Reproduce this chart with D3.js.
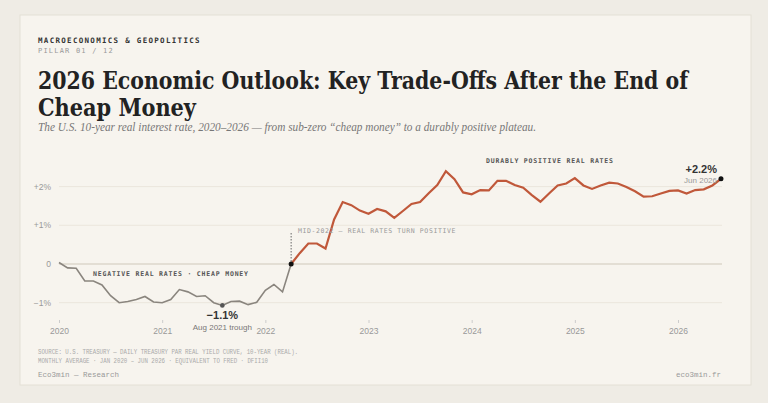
<!DOCTYPE html>
<html><head><meta charset="utf-8">
<script src="https://cdn.jsdelivr.net/npm/d3@7"></script>
<style>body{margin:0;background:#efece5}svg{display:block}</style>
</head><body><svg id="c" width="768" height="403"></svg>
<script>
const startYear = 2020;
const greyValues = [0.04,-0.1,-0.11,-0.44,-0.44,-0.54,-0.82,-1.0,-0.97,-0.92,-0.84,-0.98,
 -1.0,-0.92,-0.66,-0.72,-0.84,-0.82,-1.0,-1.07,-0.97,-0.96,-1.05,-0.99,-0.68,-0.53,-0.72,0];
const orangeValues = [0,0.28,0.53,0.53,0.4,1.15,1.6,1.52,1.38,1.3,1.42,1.36,1.19,
 1.37,1.55,1.6,1.83,2.04,2.4,2.19,1.85,1.8,1.91,1.9,2.15,2.15,2.04,1.97,1.78,1.61,1.82,2.03,2.08,2.22,
 2.03,1.94,2.03,2.1,2.08,1.99,1.88,1.74,1.75,1.82,1.89,1.9,1.82,1.91,1.93,2.03,2.2];
const orangeStart = 27;
const yTicks = [-1,0,1,2];
const yTickLabels = ["−1%","0","+1%","+2%"];
const xTicks = [2020,2021,2022,2023,2024,2025,2026];

const svg = d3.select("#c");
svg.append("rect").attr("width",768).attr("height",403).attr("fill","#efece5");
svg.append("rect").attr("x",20).attr("y",15).attr("width",731).attr("height",370).attr("fill","#f7f4ee").attr("stroke","#e4e0d6");

const mono = "'DejaVu Sans Mono', monospace";
const t = (x,y,s,o)=>{const e=svg.append("text").attr("x",x).attr("y",y).text(s);for(const k in o)e.attr(k,o[k]);return e;};
t(38,43,"MACROECONOMICS & GEOPOLITICS",{"font-family":mono,"font-size":7.5,"font-weight":"bold","letter-spacing":1.3,fill:"#333"});
t(38,53,"PILLAR 01 / 12",{"font-family":mono,"font-size":7,"letter-spacing":1.2,fill:"#999"});
t(38,89,"2026 Economic Outlook: Key Trade-Offs After the End of",{"font-family":"'DejaVu Serif', serif","font-size":24,"font-weight":"bold",fill:"#222",textLength:650,lengthAdjust:"spacingAndGlyphs"});
t(38,116,"Cheap Money",{"font-family":"'DejaVu Serif', serif","font-size":24,"font-weight":"bold",fill:"#222",textLength:158,lengthAdjust:"spacingAndGlyphs"});
t(38,131,"The U.S. 10-year real interest rate, 2020–2026 — from sub-zero “cheap money” to a durably positive plateau.",{"font-family":"'Liberation Serif', serif","font-size":12,"font-style":"italic",fill:"#777",textLength:498,lengthAdjust:"spacingAndGlyphs"});

const x = d3.scaleLinear().domain([2020,2026]).range([59,678]);
const y = d3.scaleLinear().domain([0,1]).range([264,225.3]);
const mx = i => x(startYear + i/12);

const g = svg.append("g");
yTicks.forEach((v,i)=>{
  g.append("line").attr("x1",59).attr("x2",722).attr("y1",y(v)).attr("y2",y(v))
   .attr("stroke", v===0?"#cfc8ba":"#ebe6dc").attr("stroke-width",v===0?1.2:1);
  t(51,y(v)+3,yTickLabels[i],{"font-family":"'Liberation Sans',sans-serif","font-size":8.5,fill:"#999","text-anchor":"end"});
});
const xa = svg.append("g").attr("transform","translate(0,320)").call(d3.axisBottom(x).tickValues(xTicks).tickFormat(d3.format("d")).tickSize(3));
xa.select(".domain").remove();
xa.selectAll("line").attr("stroke","#ccc");
xa.selectAll("text").attr("font-family","'Liberation Sans',sans-serif").attr("font-size",8.5).attr("fill","#999").attr("dy","0.9em");

const line = d3.line().x(d=>mx(d[0])).y(d=>y(d[1]));
svg.append("path").datum(greyValues.map((v,i)=>[i,v])).attr("d",line).attr("fill","none").attr("stroke","#8a857e").attr("stroke-width",1.6);
svg.append("path").datum(orangeValues.map((v,i)=>[i+orangeStart,v])).attr("d",line).attr("fill","none").attr("stroke","#c0583a").attr("stroke-width",2.2);

svg.append("line").attr("x1",mx(orangeStart)).attr("x2",mx(orangeStart)).attr("y1",233).attr("y2",264).attr("stroke","#666").attr("stroke-dasharray","1.5,1.5");
svg.append("circle").attr("cx",mx(orangeStart)).attr("cy",y(0)).attr("r",2.5).attr("fill","#111");
t(298,233,"MID-2022 — REAL RATES TURN POSITIVE",{"font-family":mono,"font-size":6.5,"letter-spacing":0.6,fill:"#999"});
t(93,276,"NEGATIVE REAL RATES · CHEAP MONEY",{"font-family":mono,"font-size":6.5,"font-weight":"bold",fill:"#555",textLength:155,lengthAdjust:"spacing"});
t(486,163,"DURABLY POSITIVE REAL RATES",{"font-family":mono,"font-size":6.5,"font-weight":"bold",fill:"#555",textLength:127,lengthAdjust:"spacing"});
const ti = 19;
svg.append("circle").attr("cx",mx(ti)).attr("cy",y(greyValues[ti])).attr("r",2.3).attr("fill","#555");
t(mx(ti),319,"−1.1%",{"font-family":"'Liberation Sans',sans-serif","font-size":11,"font-weight":"bold",fill:"#333","text-anchor":"middle"});
t(mx(ti),330,"Aug 2021 trough",{"font-family":"'Liberation Sans',sans-serif","font-size":8,fill:"#777","text-anchor":"middle"});
const li = orangeStart+orangeValues.length-1;
svg.append("circle").attr("cx",mx(li)).attr("cy",y(orangeValues[orangeValues.length-1])).attr("r",2.5).attr("fill","#111");
t(717,173,"+2.2%",{"font-family":"'Liberation Sans',sans-serif","font-size":11,"font-weight":"bold",fill:"#333","text-anchor":"end"});
t(717,183,"Jun 2026",{"font-family":"'Liberation Sans',sans-serif","font-size":8,fill:"#999","text-anchor":"end"});

const cond = "'Liberation Mono', monospace";
t(38,354,"SOURCE: U.S. TREASURY — DAILY TREASURY PAR REAL YIELD CURVE, 10-YEAR (REAL).",{"font-family":cond,"font-size":6.5,fill:"#aaa",textLength:260,lengthAdjust:"spacingAndGlyphs"});
t(38,363,"MONTHLY AVERAGE · JAN 2020 – JUN 2026 · EQUIVALENT TO FRED · DFII10",{"font-family":cond,"font-size":6.5,fill:"#aaa",textLength:230,lengthAdjust:"spacingAndGlyphs"});
t(38,377,"Eco3min — Research",{"font-family":cond,"font-size":7.5,fill:"#999"});
t(721,377,"eco3min.fr",{"font-family":cond,"font-size":7.5,fill:"#999","text-anchor":"end"});
</script></body></html>
